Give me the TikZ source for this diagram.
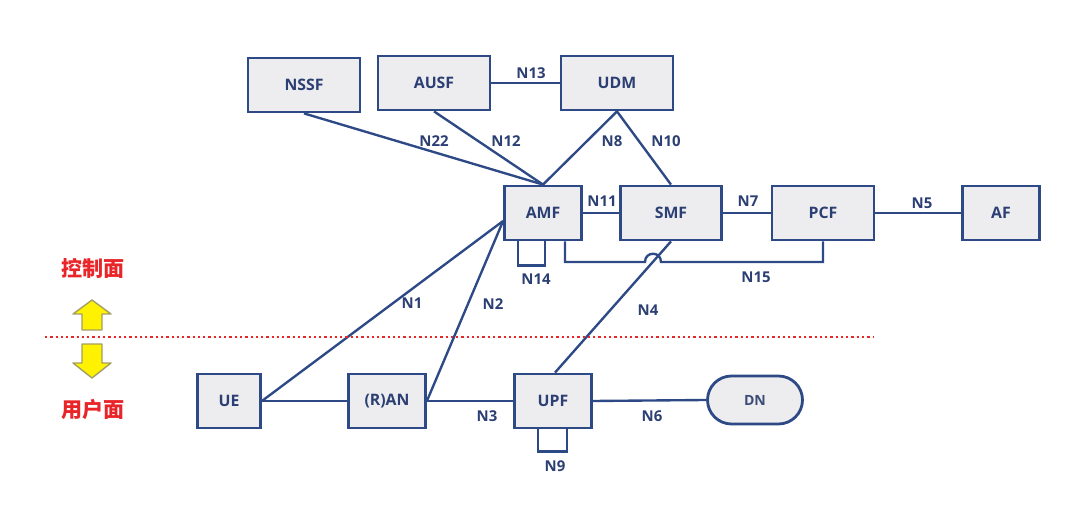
\documentclass[tikz,border=0pt]{standalone}
\usepackage{fontspec}
\setmainfont{Open Sans}
\newfontfamily\cjk{Noto Sans CJK SC}
\definecolor{nfblue}{HTML}{2E4A86}
\definecolor{nfgray}{HTML}{EDEDF0}
\definecolor{nftext}{HTML}{2B3F73}
\definecolor{planered}{HTML}{E8262A}
\tikzset{
  nf/.style={draw=nfblue,line width=1.6pt,fill=nfgray,minimum width=2.24cm,
    minimum height=1.08cm,inner sep=0pt,font=\fontsize{9}{10}\selectfont\bfseries,text=nftext},
  nfs/.style={nf,minimum width=1.54cm},
  link/.style={draw=nfblue,line width=1.35pt},
  lbl/.style={font=\fontsize{8.5}{10}\selectfont\bfseries,text=nftext,inner sep=0pt},
  plane/.style={font=\fontsize{12}{14}\selectfont\cjk\bfseries,text=planered},
  plarrow/.style={fill=yellow,draw=black!35!yellow!60!gray,line width=0.8pt,line join=round}
}
\begin{document}
\begin{tikzpicture}[x=0.02cm,y=-0.02cm]
	\useasboundingbox (0,0) rectangle (1080,513);

	%network functions
	\node[nf] (nssf) at (304,85) {NSSF};
	\node[nf] (ausf) at (434,83) {AUSF};
	\node[nf] (udm) at (617,83) {UDM};
	\node[nfs] (amf) at (543,213) {AMF};
	\node[nf,minimum width=2.02cm] (smf) at (671,213) {SMF};
	\node[nf,minimum width=2.04cm] (pcf) at (823,213) {PCF};
	\node[nfs] (af) at (1001,213) {AF};
	\node[nfs,minimum width=1.26cm] (ue) at (229,401) {UE};
	\node[nfs] (ran) at (387,401) {(R)AN};
	\node[nfs] (upf) at (553,401) {UPF};
	\node[nf,minimum width=1.9cm,minimum height=0.96cm,rounded corners=0.48cm,
	  font=\fontsize{8}{10}\selectfont\bfseries,text=nftext!80!gray] (dn) at (755,400) {DN};

	%links
	\draw[link] (nssf.south) -- (amf.north);
	\draw[link] (ausf.south) -- (amf.north);
	\draw[link] (ausf.east) -- (udm.west);
	\draw[link] (udm.south) -- (amf.north);
	\draw[link] (udm.south) -- (smf.north);
	\draw[link] (amf.east) -- (smf.west);
	\draw[link] (smf.east) -- (pcf.west);
	\draw[link] (pcf.east) -- (af.west);
	\draw[link] (ue.east) -- ([yshift=-0.16cm]amf.west);
	\draw[link] (ran.east) -- ([yshift=-0.16cm]amf.west);
	\draw[link] (ue.east) -- (ran.west);
	\draw[link] (ran.east) -- (upf.west);
	\draw[link] (upf.east) -- (dn.west);
	\draw[link] ([xshift=0.04cm]upf.north) -- (smf.south);
	\draw[link] ([xshift=-0.5cm]amf.south) -- ++(0,24) -| ([xshift=0.04cm]amf.south); %N14 loop
	\draw[link] ([xshift=-0.3cm]upf.south) -- ++(0,22) -| ([xshift=0.28cm]upf.south); %N9 loop
	\draw[link] ([xshift=0.44cm]amf.south) |- (645,262)
	  .. controls (645,251) and (661,251) .. (661,262) -| (pcf.south); %N15 with hop

	%labels
	\node[lbl] (n13) at (531,73) {N13};
	\node[lbl] (n22) at (434,141) {N22};
	\node[lbl] (n12) at (506,141) {N12};
	\node[lbl] (n8) at (612,141) {N8};
	\node[lbl] (n10) at (666,141) {N10};
	\node[lbl] (n11) at (602,201) {N11};
	\node[lbl] (n7) at (748,201) {N7};
	\node[lbl] (n5) at (922,203) {N5};
	\node[lbl] (n14) at (536,279) {N14};
	\node[lbl] (n15) at (756,277) {N15};
	\node[lbl] (n1) at (412,303) {N1};
	\node[lbl] (n2) at (493,304) {N2};
	\node[lbl] (n4) at (648,310) {N4};
	\node[lbl] (n3) at (487,416) {N3};
	\node[lbl] (n6) at (652,416) {N6};
	\node[lbl] (n9) at (555,466) {N9};

	%planes
	\draw[planered,line width=1.3pt,dash pattern=on 1.3pt off 1.7pt] (45,337) -- (873,337);
	\node[plane] (cp) at (93,268) {控制面};
	\node[plane] (up) at (93,410) {用户面};
	\draw[plarrow] (92,300) -- (111,314) -- (102,314) -- (102,330) -- (82,330) -- (82,314) -- (73,314) -- cycle;
	\draw[plarrow] (92,378) -- (111,363) -- (102,363) -- (102,344) -- (82,344) -- (82,363) -- (73,363) -- cycle;
\end{tikzpicture}
\end{document}
